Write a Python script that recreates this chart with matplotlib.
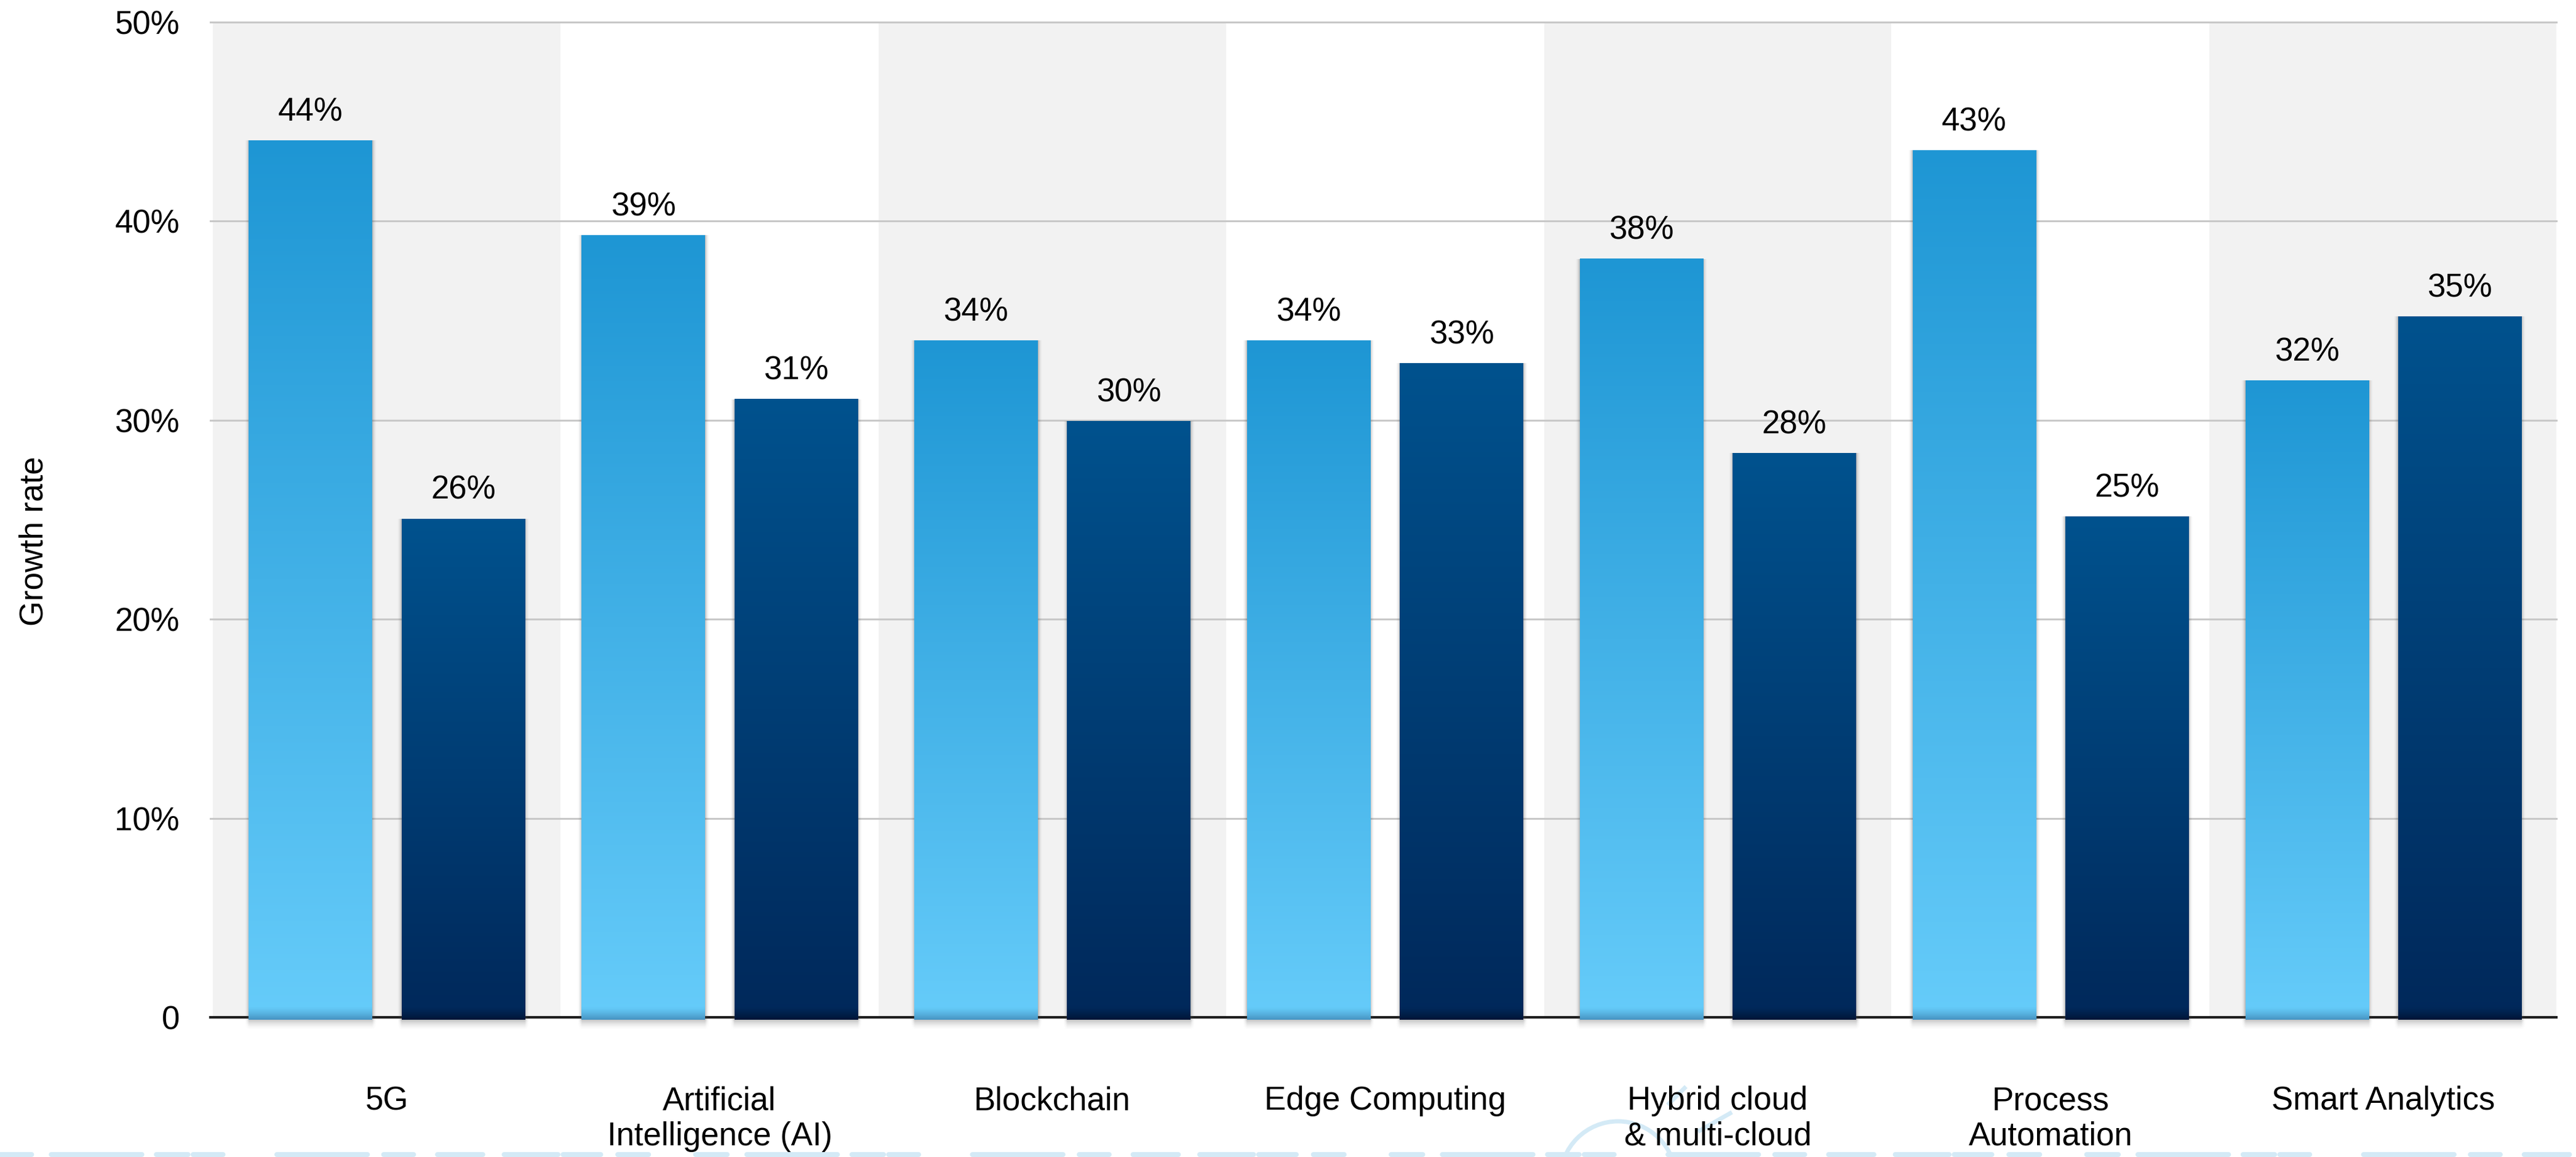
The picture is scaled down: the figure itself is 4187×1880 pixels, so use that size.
import numpy as np
import matplotlib.pyplot as plt
from matplotlib.lines import Line2D
from matplotlib.patches import Arc

plt.rcParams['font.family'] = ['Liberation Sans', 'DejaVu Sans']

# data
categories = ["5G", "Artificial\nIntelligence (AI)", "Blockchain", "Edge Computing",
              "Hybrid cloud\n& multi-cloud", "Process\nAutomation", "Smart Analytics"]
first_values = [44.05, 39.3, 34.0, 34.0, 38.1, 43.55, 32.0]
second_values = [25.05, 31.05, 29.95, 32.85, 28.35, 25.15, 35.2]
first_labels = ["44%", "39%", "34%", "34%", "38%", "43%", "32%"]
second_labels = ["26%", "31%", "30%", "33%", "28%", "25%", "35%"]
y_ticks = [0, 10, 20, 30, 40, 50]
y_tick_labels = ["0", "10%", "20%", "30%", "40%", "50%"]

FIG_W, FIG_H, DPI = 4187, 1880, 100
FONT_SIZE = 38

BAR_WIDTH = 0.37
BAR_OFFSET = 0.2295
BAND_HALF = 0.522
BAR_DROP = -0.12      # bars run a little below the axis line
BASE_BAND = 0.5       # darker strip at the foot of each bar

LIGHT = (np.array([30, 150, 212]) / 255, np.array([102, 204, 250]) / 255, np.array([72, 150, 196]) / 255)
DARK = (np.array([0, 82, 142]) / 255, np.array([0, 40, 90]) / 255, np.array([0, 22, 56]) / 255)


def bar_shadow(ax, x_left, width, height):
    spread = 0.014
    depth = 0.55
    xs = np.linspace(x_left - spread, x_left + width + spread, 300)
    ys = np.linspace(height, BAR_DROP - depth, 300)
    dx = np.maximum(np.maximum(x_left - xs, xs - (x_left + width)), 0) / spread
    dy = np.maximum(BAR_DROP - ys, 0) / depth
    fade_x = np.clip(1 - dx, 0, 1) ** 2
    fade_y = np.clip(1 - dy, 0, 1) ** 1.5
    rgba = np.zeros((len(ys), len(xs), 4))
    rgba[..., :3] = 0.3
    rgba[..., 3] = 0.38 * np.outer(fade_y, fade_x)
    img = ax.imshow(rgba, extent=[xs[0], xs[-1], ys[-1], ys[0]], origin='upper',
                    aspect='auto', interpolation='bilinear', zorder=3)
    img.set_clip_on(False)


def gradient_bar(ax, x_center, height, colors):
    top, bottom, base = colors
    x_left = x_center - BAR_WIDTH / 2
    bar_shadow(ax, x_left, BAR_WIDTH, height)
    y = np.linspace(height, BAR_DROP, 500)
    t = (height - y) / (height - BAR_DROP)
    rgb = top + (bottom - top) * t[:, None]
    mix = np.clip((BASE_BAND - y) / (BASE_BAND - BAR_DROP), 0, 1)[:, None] ** 1.3
    rgb = rgb * (1 - mix) + base * mix
    img = ax.imshow(rgb[:, None, :], extent=[x_left, x_left + BAR_WIDTH, BAR_DROP, height],
                    origin='upper', aspect='auto', interpolation='bilinear', zorder=4)
    img.set_clip_on(False)


fig = plt.figure(figsize=(FIG_W / DPI, FIG_H / DPI), dpi=DPI)
ax = fig.add_axes([342 / FIG_W, 1 - 1653 / FIG_H, (4155 - 342) / FIG_W, (1653 - 36) / FIG_H])

x = np.arange(len(categories))

# alternating background bands
for i in x[::2]:
    ax.axvspan(i - BAND_HALF, i + BAND_HALF, color='#f2f2f2', lw=0, zorder=0)

for v in y_ticks[1:]:
    ax.axhline(v, color='#c8c8c8', lw=2.2, zorder=1, clip_on=False)

for i in x:
    gradient_bar(ax, i - BAR_OFFSET, first_values[i], LIGHT)
    gradient_bar(ax, i + BAR_OFFSET, second_values[i], DARK)
    ax.annotate(first_labels[i], (i - BAR_OFFSET, first_values[i]), xytext=(0, 23),
                textcoords='offset points', ha='center', va='baseline', fontsize=FONT_SIZE, zorder=5)
    ax.annotate(second_labels[i], (i + BAR_OFFSET, second_values[i]), xytext=(0, 23),
                textcoords='offset points', ha='center', va='baseline', fontsize=FONT_SIZE, zorder=5)

ax.set_xlim(-0.53, len(categories) - 1 + 0.52)
ax.set_ylim(0, 50)

ax.set_xticks(x, categories, fontsize=FONT_SIZE, linespacing=1.2)
ax.set_yticks(y_ticks, y_tick_labels, fontsize=FONT_SIZE)
ax.tick_params(axis='x', length=0, pad=80)
ax.tick_params(axis='y', length=0, pad=36)

for side in ['top', 'right', 'left']:
    ax.spines[side].set_visible(False)
ax.spines['bottom'].set_color('#1e1e1e')
ax.spines['bottom'].set_linewidth(3)

fig.text(55 / FIG_W, 1 - 879 / FIG_H, 'Growth rate', rotation=90, ha='center', va='center',
         fontsize=FONT_SIZE)

# faint watermark along the bottom edge, kept behind the axes text
mark = '#d4eaf6'
mark_lw = 5.8
dash_pts = [37, 23, 106, 17, 37, 6, 35, 63, 106, 19, 35, 28, 53, 25, 63, 6, 44, 20, 36, 55]
fig.add_artist(Line2D([0, 1], [4 / FIG_H, 4 / FIG_H], transform=fig.transFigure, color=mark,
                      lw=mark_lw, dash_capstyle='round', zorder=-1,
                      dashes=[d / mark_lw for d in dash_pts]))
fig.add_artist(Arc((26.30, -0.36), 1.88, 1.88, theta1=0, theta2=180, transform=fig.dpi_scale_trans,
                   color=mark, lw=5, zorder=-1))
fig.add_artist(Line2D([27.13, 27.38], [0.87, 1.12], transform=fig.dpi_scale_trans, color=mark, lw=5,
                      zorder=-1))
fig.add_artist(Line2D([27.63, 28.12], [0.43, 0.71], transform=fig.dpi_scale_trans, color=mark, lw=5,
                      zorder=-1))

fig.savefig('out.png', dpi=DPI, facecolor='white')
plt.close(fig)
